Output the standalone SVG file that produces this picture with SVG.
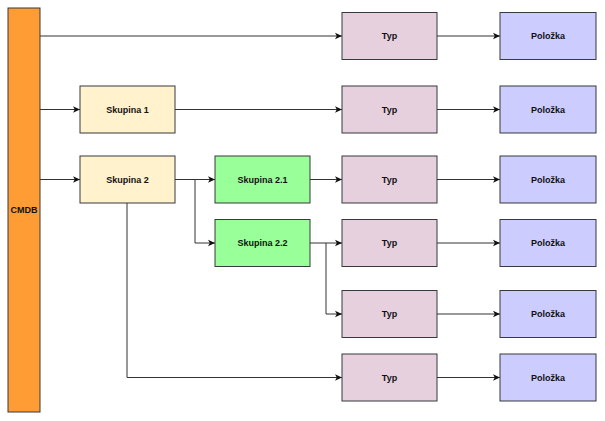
<svg xmlns="http://www.w3.org/2000/svg" width="605" height="421" viewBox="0 0 605 421">
<style>
.n rect{stroke:#36393d;stroke-width:1}
.n text{font-family:"Liberation Sans",Arial,sans-serif;font-weight:bold;font-size:9px;fill:#111;text-anchor:middle;dominant-baseline:central}
.cmdb rect{fill:#ff9c33}
.sk rect{fill:#fff2cc}
.gr rect{fill:#99ff99}
.typ rect{fill:#e6d0de}
.pol rect{fill:#ccccff}
.c path{fill:none;stroke:#333;stroke-width:1}
</style>
<defs>
<marker id="a" markerWidth="8" markerHeight="8" refX="7" refY="4" orient="auto" markerUnits="userSpaceOnUse">
<path d="M0,0.8 L7,4 L0,7.2 L1.8,4 Z" fill="#111"/>
</marker>
</defs>
<rect width="605" height="421" fill="#fff"/>
<g class="c" marker-end="url(#a)">
<path d="M40,36 H342"/>
<path d="M40,109.5 H80"/>
<path d="M40,179.5 H80"/>
<path d="M175,109.5 H342"/>
<path d="M175,179.5 H215"/>
<path d="M195,179.5 V243 H215"/>
<path d="M310,179.5 H342"/>
<path d="M310,243 H342"/>
<path d="M326,243 V314 H342"/>
<path d="M127,203 V377.5 H342"/>
<path d="M437,36 H500"/>
<path d="M437,109.5 H500"/>
<path d="M437,179.5 H500"/>
<path d="M437,243 H500"/>
<path d="M437,314 H500"/>
<path d="M437,377.5 H500"/>
</g>
<g id="cmdb" class="n cmdb"><rect x="8" y="8" width="32" height="404"/><text x="24" y="210">CMDB</text></g>
<g id="sk1" class="n sk"><rect x="80" y="86" width="95" height="47"/><text x="127.5" y="109.5">Skupina 1</text></g>
<g id="sk2" class="n sk"><rect x="80" y="156" width="95" height="47"/><text x="127.5" y="179.5">Skupina 2</text></g>
<g id="sk21" class="n gr"><rect x="215" y="156" width="95" height="47"/><text x="262.5" y="179.5">Skupina 2.1</text></g>
<g id="sk22" class="n gr"><rect x="215" y="219.5" width="95" height="47"/><text x="262.5" y="243">Skupina 2.2</text></g>
<g id="typ1" class="n typ"><rect x="342" y="12.5" width="95" height="47"/><text x="389.5" y="36">Typ</text></g>
<g id="typ2" class="n typ"><rect x="342" y="86" width="95" height="47"/><text x="389.5" y="109.5">Typ</text></g>
<g id="typ3" class="n typ"><rect x="342" y="156" width="95" height="47"/><text x="389.5" y="179.5">Typ</text></g>
<g id="typ4" class="n typ"><rect x="342" y="219.5" width="95" height="47"/><text x="389.5" y="243">Typ</text></g>
<g id="typ5" class="n typ"><rect x="342" y="290.5" width="95" height="47"/><text x="389.5" y="314">Typ</text></g>
<g id="typ6" class="n typ"><rect x="342" y="354" width="95" height="47"/><text x="389.5" y="377.5">Typ</text></g>
<g id="pol1" class="n pol"><rect x="500" y="12.5" width="96" height="47"/><text x="548" y="36">Položka</text></g>
<g id="pol2" class="n pol"><rect x="500" y="86" width="96" height="47"/><text x="548" y="109.5">Položka</text></g>
<g id="pol3" class="n pol"><rect x="500" y="156" width="96" height="47"/><text x="548" y="179.5">Položka</text></g>
<g id="pol4" class="n pol"><rect x="500" y="219.5" width="96" height="47"/><text x="548" y="243">Položka</text></g>
<g id="pol5" class="n pol"><rect x="500" y="290.5" width="96" height="47"/><text x="548" y="314">Položka</text></g>
<g id="pol6" class="n pol"><rect x="500" y="354" width="96" height="47"/><text x="548" y="377.5">Položka</text></g>
</svg>
